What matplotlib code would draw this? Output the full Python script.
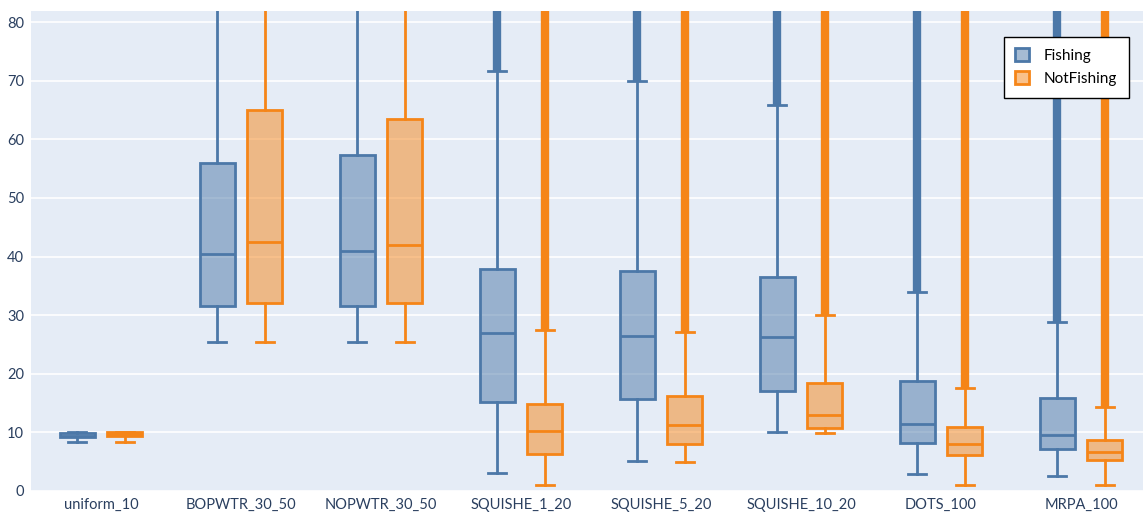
import numpy as np
import matplotlib.pyplot as plt

plt.rcParams['font.family'] = ['Lato', 'DejaVu Sans']

categories = ['uniform_10', 'BOPWTR_30_50', 'NOPWTR_30_50', 'SQUISHE_1_20',
              'SQUISHE_5_20', 'SQUISHE_10_20', 'DOTS_100', 'MRPA_100']

# box stats per category: lower fence, q1, median, q3, upper fence, highest outlier
fish_lo = [8.3, 25.4, 25.4, 3.0, 5.1, 10.0, 2.9, 2.5]
fish_q1 = [9.2, 31.5, 31.5, 15.2, 15.7, 17.0, 8.2, 7.1]
fish_med = [9.4, 40.5, 41.0, 27.0, 26.5, 26.3, 11.5, 9.6]
fish_q3 = [9.9, 56.0, 57.3, 37.8, 37.5, 36.5, 18.7, 15.8]
fish_hi = [10.0, 97.0, 98.0, 71.7, 70.0, 65.8, 34.0, 28.8]
fish_out = [np.nan, np.nan, np.nan, 120.0, 118.0, 115.0, 110.0, 112.0]

nf_lo = [8.3, 25.4, 25.4, 1.0, 4.9, 9.9, 1.0, 1.0]
nf_q1 = [9.3, 32.0, 32.0, 6.3, 8.0, 10.7, 6.2, 5.3]
nf_med = [9.7, 42.5, 42.0, 10.2, 11.3, 13.0, 8.0, 6.6]
nf_q3 = [10.0, 65.0, 63.5, 14.8, 16.2, 18.4, 11.0, 8.7]
nf_hi = [10.0, 99.0, 99.0, 27.5, 27.2, 30.1, 17.6, 14.3]
nf_out = [np.nan, np.nan, np.nan, 121.0, 119.0, 117.0, 113.0, 114.0]

series = [
    ('Fishing', '#4c78a8', -0.17, fish_lo, fish_q1, fish_med, fish_q3, fish_hi, fish_out),
    ('NotFishing', '#f58518', 0.17, nf_lo, nf_q1, nf_med, nf_q3, nf_hi, nf_out),
]

fig = plt.figure(figsize=(11.43, 5.16), dpi=100)
ax = fig.add_axes([31 / 1143, 25 / 516, 1120 / 1143, 480 / 516])
ax.set_facecolor('#e5ecf6')

x = np.arange(len(categories))
handles = []
for name, color, off, lo, q1, med, q3, hi, out in series:
    rgb = plt.matplotlib.colors.to_rgb(color)
    stats = [dict(whislo=lo[i], q1=q1[i], med=med[i], q3=q3[i], whishi=hi[i], fliers=[])
             for i in range(len(categories))]
    bp = ax.bxp(stats, positions=x + off, widths=0.25, patch_artist=True,
                showfliers=False, manage_ticks=False,
                boxprops=dict(facecolor=color, edgecolor=color, linewidth=2),
                medianprops=dict(color=color, linewidth=2),
                whiskerprops=dict(color=color, linewidth=2),
                capprops=dict(color=color, linewidth=2),
                capwidths=0.13, zorder=3)
    for b in bp['boxes']:
        b.set_facecolor((*rgb, 0.5))
    # dense outliers pile up into a solid band above the upper fence
    out = np.array(out)
    ok = ~np.isnan(out)
    ax.vlines((x + off)[ok], np.array(hi)[ok], out[ok], color=color, linewidth=6, zorder=2)
    handles.append(plt.matplotlib.patches.Patch(facecolor=(*rgb, 0.5), edgecolor=color,
                                                linewidth=2, label=name))

ax.set_xlim(-0.5, 7.5)
ax.set_ylim(0, 81.9)
ax.set_yticks(range(0, 81, 10))
ax.set_xticks(x)
ax.set_xticklabels(categories)
ax.grid(axis='y', color='white', linewidth=1.2)
ax.set_axisbelow(True)
for s in ax.spines.values():
    s.set_visible(False)
ax.tick_params(length=0, labelsize=10.5, colors='#2a3f5f', pad=5)

leg = ax.legend(handles=handles, loc='upper left',
                bbox_to_anchor=((1004 - 31) / 1120, 1 - (37 - 11) / 480),
                borderaxespad=0, frameon=True, fancybox=False, fontsize=11,
                handlelength=0.9, handleheight=0.9, borderpad=0.75,
                labelspacing=0.55, handletextpad=0.95)
leg.get_frame().set_edgecolor('black')
leg.get_frame().set_linewidth(1)
leg.get_frame().set_facecolor('white')
leg.get_frame().set_alpha(1)

fig.savefig('out.png', dpi=100)
